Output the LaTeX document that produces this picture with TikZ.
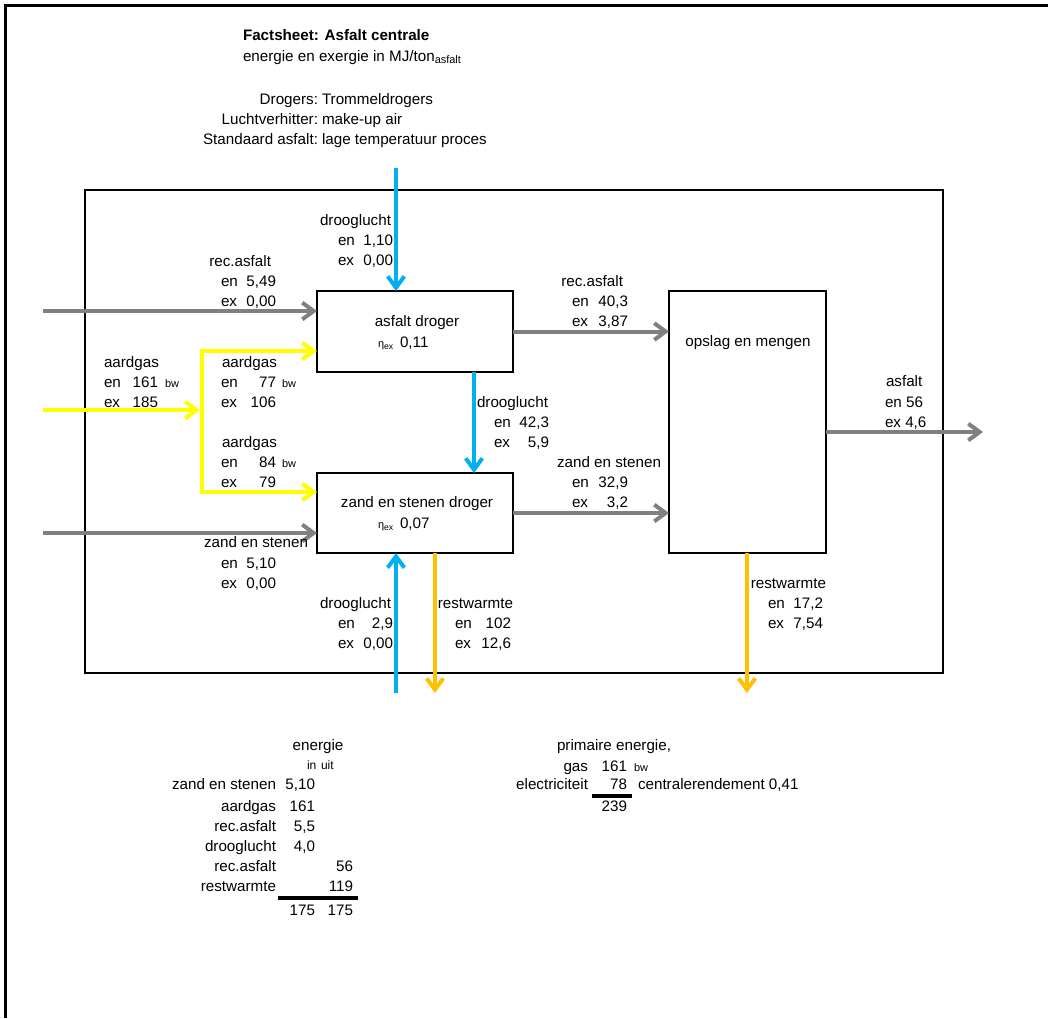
\documentclass[tikz,border=0pt]{standalone}
\usepackage{fontspec}
\setmainfont{Liberation Sans}
\usetikzlibrary{arrows.meta}
\definecolor{fgray}{HTML}{808080}
\definecolor{fyel}{HTML}{FFFF00}
\definecolor{fblue}{HTML}{00B0F0}
\definecolor{forange}{HTML}{FFC000}
\newcommand{\fs}{\fontsize{11.4}{15}\selectfont}
\newcommand{\sm}{\fontsize{8.2}{9}\selectfont}
\newcommand{\bwx}{\raisebox{-0.5pt}{\sm bw}}
\newcommand{\etaex}{{\sm η}\raisebox{-2pt}{\fontsize{6.5}{7}\selectfont ex}}
\newcommand{\Lt}[4]{\node[txt,anchor=base west] (#1) at (#2,#3+5) {#4};}
\newcommand{\Rt}[4]{\node[txt,anchor=base east] (#1) at (#2,#3+5) {#4};}
\newcommand{\Ct}[4]{\node[txt,anchor=base] (#1) at (#2,#3+5) {#4};}
\tikzset{
  txt/.style={inner sep=0pt,outer sep=0pt,font=\fs},
  box/.style={draw,line width=1.5pt,inner sep=0pt,outer sep=0pt},
  flow/.style={line width=3pt,-{Straight Barb[length=8.5pt,width=12.5pt]}},
  plainflow/.style={line width=3pt},
}
\begin{document}
\begin{tikzpicture}[x=0.75pt,y=-0.75pt]
\useasboundingbox (0,0) rectangle (1048,1018);
% outer frame
\draw[line width=2.25pt] (5,1018) -- (5,5) -- (1048,5);
% inner frame
\draw[line width=1.5pt] (85,190) rectangle (943,673);
% title block
\Lt{t1}{243}{35}{\bfseries Factsheet: Asfalt centrale}
\Lt{t2}{243}{56}{energie en exergie in MJ/ton\raisebox{-2pt}{\sm asfalt}}
\Rt{t3}{318}{99}{Drogers:}\Lt{t4}{322}{99}{Trommeldrogers}
\Rt{t5}{318}{119}{Luchtverhitter:}\Lt{t6}{322}{119}{make-up air}
\Rt{t7}{318}{139}{Standaard asfalt:}\Lt{t8}{322}{139}{lage temperatuur proces}
% boxes
\node[box,minimum width=147pt,minimum height=60.75pt] (ad) at (415,331.5) {};
\node[box,minimum width=147pt,minimum height=60pt] (zd) at (415,513) {};
\node[box,minimum width=117.75pt,minimum height=196.5pt] (om) at (747.5,422) {};
\Ct{adt}{417}{321}{asfalt droger}
\Lt{ade}{378}{342}{\etaex}\Lt{adv}{400}{342}{0,11}
\Ct{zdt}{417}{502}{zand en stenen droger}
\Lt{zde}{378}{523}{\etaex}\Lt{zdv}{400}{523}{0,07}
\Ct{omt}{748}{341}{opslag en mengen}
% coordinates
\coordinate (recin) at (43,311);
\coordinate (zandin) at (43,533);
\coordinate (gasin) at (43,410);
\coordinate (j) at (202,410);
\coordinate (jt) at (202,351);
\coordinate (jb) at (202,492);
\coordinate (bt) at (396,168);
\coordinate (bm) at (474,400);
\coordinate (bb) at (396,693);
\coordinate (ob) at (435,693);
\coordinate (or) at (747,693);
\coordinate (aout) at (983,432);
% gray flows
\draw[flow,fgray] (recin) -- (recin -| ad.west);
\draw[flow,fgray] (zandin) -- (zandin -| zd.west);
\draw[flow,fgray] (ad.east) -- (ad.east -| om.west);
\draw[flow,fgray] (zd.east) -- (zd.east -| om.west);
\draw[flow,fgray] (aout -| om.east) -- (aout);
% yellow flows
\draw[flow,fyel] (gasin) -- ([xshift=-1.5pt]j);
\draw[plainflow,fyel] ([yshift=1.5pt]jt) -- ([yshift=-1.5pt]jb);
\draw[flow,fyel] ([xshift=-1.5pt]jt) -- (jt -| ad.west);
\draw[flow,fyel] ([xshift=-1.5pt]jb) -- (jb -| zd.west);
% blue flows
\draw[flow,fblue] (bt) -- (bt |- ad.north);
\draw[flow,fblue] (bm |- ad.south) -- (bm |- zd.north);
\draw[flow,fblue] (bb) -- (bb |- zd.south);
% orange flows
\draw[flow,forange] (ob |- zd.south) -- (ob);
\draw[flow,forange] (or |- om.south) -- (or);
% labels: rec.asfalt in
\Rt{a1}{271}{261}{rec.asfalt}
\Lt{a2}{221}{281}{en}\Rt{a3}{276}{281}{5,49}
\Lt{a4}{221}{301}{ex}\Rt{a5}{276}{301}{0,00}
% drooglucht top
\Rt{b1}{391}{220}{drooglucht}
\Lt{b2}{338}{240}{en}\Rt{b3}{393}{240}{1,10}
\Lt{b4}{338}{260}{ex}\Rt{b5}{393}{260}{0,00}
% aardgas main
\Lt{c1}{104}{362}{aardgas}
\Lt{c2}{104}{382}{en}\Rt{c3}{158}{382}{161}\Lt{c3b}{165}{382}{\bwx}
\Lt{c4}{104}{402}{ex}\Rt{c5}{158}{402}{185}
% aardgas 77
\Lt{d1}{222}{362}{aardgas}
\Lt{d2}{221}{382}{en}\Rt{d3}{276}{382}{77}\Lt{d3b}{282}{382}{\bwx}
\Lt{d4}{221}{402}{ex}\Rt{d5}{276}{402}{106}
% aardgas 84
\Lt{e1}{222}{442}{aardgas}
\Lt{e2}{221}{462}{en}\Rt{e3}{276}{462}{84}\Lt{e3b}{282}{462}{\bwx}
\Lt{e4}{221}{482}{ex}\Rt{e5}{276}{482}{79}
% zand en stenen in
\Rt{f1}{308}{542}{zand en stenen}
\Lt{f2}{221}{563}{en}\Rt{f3}{276}{563}{5,10}
\Lt{f4}{221}{583}{ex}\Rt{f5}{276}{583}{0,00}
% rec.asfalt out
\Rt{g1}{623}{281}{rec.asfalt}
\Lt{g2}{572}{301}{en}\Rt{g3}{628}{301}{40,3}
\Lt{g4}{572}{321}{ex}\Rt{g5}{628}{321}{3,87}
% drooglucht middle
\Lt{h1}{477}{402}{drooglucht}
\Lt{h2}{494}{422}{en}\Rt{h3}{549}{422}{42,3}
\Lt{h4}{494}{442}{ex}\Rt{h5}{549}{442}{5,9}
% zand en stenen out
\Rt{i1}{661}{462}{zand en stenen}
\Lt{i2}{572}{482}{en}\Rt{i3}{628}{482}{32,9}
\Lt{i4}{572}{502}{ex}\Rt{i5}{628}{502}{3,2}
% drooglucht bottom
\Rt{k1}{391}{603}{drooglucht}
\Lt{k2}{338}{623}{en}\Rt{k3}{393}{623}{2,9}
\Lt{k4}{338}{643}{ex}\Rt{k5}{393}{643}{0,00}
% restwarmte bottom
\Rt{m1}{513}{603}{restwarmte}
\Lt{m2}{455}{623}{en}\Rt{m3}{511}{623}{102}
\Lt{m4}{455}{643}{ex}\Rt{m5}{511}{643}{12,6}
% restwarmte right
\Rt{n1}{826}{583}{restwarmte}
\Lt{n2}{768}{603}{en}\Rt{n3}{823}{603}{17,2}
\Lt{n4}{768}{623}{ex}\Rt{n5}{823}{623}{7,54}
% asfalt out
\Lt{p1}{886}{381}{asfalt}
\Lt{p2}{885}{402}{en 56}
\Lt{p3}{885}{422}{ex 4,6}
% energy table
\Ct{q0}{318}{745}{energie}
\node[txt,anchor=base west,font=\fontsize{9}{10}\selectfont] (q0a) at (307,769) {in};
\node[txt,anchor=base west,font=\fontsize{9}{10}\selectfont] (q0b) at (321,769) {uit};
\Rt{q1}{276}{784}{zand en stenen}\Rt{q1v}{315}{784}{5,10}
\Rt{q2}{276}{806}{aardgas}\Rt{q2v}{315}{806}{161}
\Rt{q3}{276}{826}{rec.asfalt}\Rt{q3v}{315}{826}{5,5}
\Rt{q4}{276}{846}{drooglucht}\Rt{q4v}{315}{846}{4,0}
\Rt{q5}{276}{866}{rec.asfalt}\Rt{q5v}{353}{866}{56}
\Rt{q6}{276}{886}{restwarmte}\Rt{q6v}{353}{886}{119}
\draw[line width=3pt] (278,898) -- (358,898);
\Rt{q7a}{315}{910}{175}\Rt{q7b}{353}{910}{175}
% primary energy
\Lt{r0}{557}{745}{primaire energie,}
\Rt{r1}{588}{766}{gas}\Rt{r1v}{627}{766}{161}\Lt{r1b}{634}{766}{\bwx}
\Rt{r2}{588}{784}{electriciteit}\Rt{r2v}{627}{784}{78}
\Lt{r2c}{638}{784}{centralerendement 0,41}
\draw[line width=3pt] (592,796) -- (632,796);
\Rt{r3}{627}{806}{239}
\end{tikzpicture}
\end{document}
